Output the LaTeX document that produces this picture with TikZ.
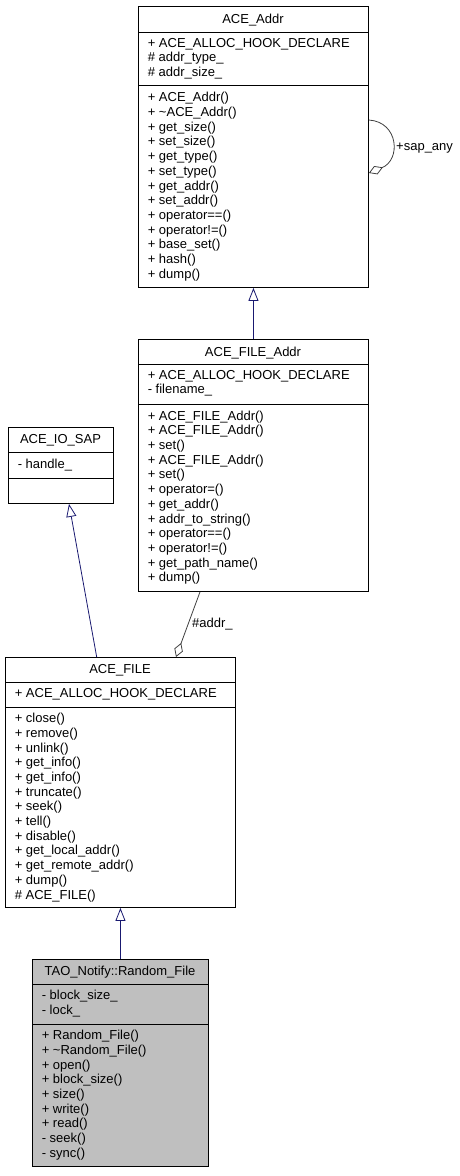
\documentclass[tikz,border=0pt]{standalone}
\usepackage{fontspec}
\setmainfont{Liberation Sans}
\usepackage{tikz}
\usepackage{xcolor}
\usetikzlibrary{arrows.meta}
\definecolor{edgeblue}{HTML}{191970}
\definecolor{edgegray}{HTML}{404040}
\definecolor{classgray}{HTML}{BFBFBF}

\begin{document}
\begin{tikzpicture}[x=1pt,y=-1pt,
  cls/.style={draw=black, line width=0.9pt, fill=white, anchor=north west, inner sep=0pt},
  clsname/.style={anchor=base, inner sep=0pt, font=\fontsize{13}{14.7}\selectfont},
  member/.style={anchor=north west, align=left, inner sep=0pt, font=\fontsize{13}{14.7}\selectfont},
  role/.style={anchor=base west, inner sep=0pt, font=\fontsize{13}{14.7}\selectfont},
  inherit/.style={edgeblue, line width=0.8pt, -{Triangle[open, length=13pt, width=10pt]}},
  aggr/.style={edgegray, line width=0.8pt, -{Diamond[open, length=15pt, width=9pt]}}]
\useasboundingbox (0,0) rectangle (459,1176);

% class boxes
\node [cls, minimum width=230, minimum height=281] (addr) at (138,6) {};
\node [cls, minimum width=230, minimum height=252] (faddr) at (138,339) {};
\node [cls, minimum width=105, minimum height=76] (iosap) at (8,427) {};
\node [cls, minimum width=230, minimum height=250] (file) at (5,657) {};
\node [cls, fill=classgray, minimum width=176, minimum height=207] (rand) at (32,959) {};

% compartments
\draw [line width=0.9pt] (138,32) -- (368,32);
\draw [line width=0.9pt] (138,85.7) -- (368,85.7);
\draw [line width=0.9pt] (138,364) -- (368,364);
\draw [line width=0.9pt] (138,404.5) -- (368,404.5);
\draw [line width=0.9pt] (8,452) -- (113,452);
\draw [line width=0.9pt] (8,478) -- (113,478);
\draw [line width=0.9pt] (5,682) -- (235,682);
\draw [line width=0.9pt] (5,707) -- (235,707);
\draw [line width=0.9pt] (32,984) -- (208,984);
\draw [line width=0.9pt] (32,1024) -- (208,1024);

% ACE_Addr
\node [clsname] (addrname) at (253,23) {ACE\_Addr};
\node [member] (addrattr) at (147.6,37.8) {+ ACE\_ALLOC\_HOOK\_DECLARE\\\# addr\_type\_\\\# addr\_size\_};
\node [member] (addrops) at (147.6,92.2) {+ ACE\_Addr()\\+ \textasciitilde ACE\_Addr()\\+ get\_size()\\+ set\_size()\\+ get\_type()\\+ set\_type()\\+ get\_addr()\\+ set\_addr()\\+ operator==()\\+ operator!=()\\+ base\_set()\\+ hash()\\+ dump()};

% ACE_FILE_Addr
\node [clsname] (faddrname) at (253,356) {ACE\_FILE\_Addr};
\node [member] (faddrattr) at (147.6,370) {+ ACE\_ALLOC\_HOOK\_DECLARE\\- filename\_};
\node [member] (faddrops) at (147.6,410.5) {+ ACE\_FILE\_Addr()\\+ ACE\_FILE\_Addr()\\+ set()\\+ ACE\_FILE\_Addr()\\+ set()\\+ operator=()\\+ get\_addr()\\+ addr\_to\_string()\\+ operator==()\\+ operator!=()\\+ get\_path\_name()\\+ dump()};

% ACE_IO_SAP
\node [clsname] (iosapname) at (60.5,443.5) {ACE\_IO\_SAP};
\node [member] (iosapattr) at (17.6,458.6) {- handle\_};

% ACE_FILE
\node [clsname] (filename) at (120,673.5) {ACE\_FILE};
\node [member] (fileattr) at (14.6,688) {+ ACE\_ALLOC\_HOOK\_DECLARE};
\node [member] (fileops) at (14.6,713) {+ close()\\+ remove()\\+ unlink()\\+ get\_info()\\+ get\_info()\\+ truncate()\\+ seek()\\+ tell()\\+ disable()\\+ get\_local\_addr()\\+ get\_remote\_addr()\\+ dump()\\\# ACE\_FILE()};

% TAO_Notify::Random_File
\node [clsname] (randname) at (120,975.5) {TAO\_Notify::Random\_File};
\node [member] (randattr) at (41.6,990) {- block\_size\_\\- lock\_};
\node [member] (randops) at (41.6,1030) {+ Random\_File()\\+ \textasciitilde Random\_File()\\+ open()\\+ block\_size()\\+ size()\\+ write()\\+ read()\\- seek()\\- sync()};

% relations
\draw [inherit] (faddr.north) -- (addr.south);
\draw [inherit] ([xshift=91.7pt]file.north west) -- ([xshift=61pt]iosap.south west);
\draw [inherit] (rand.north) -- (file.south);
\draw [aggr] ([xshift=62pt]faddr.south west) -- ([xshift=171pt]file.north west);
\node [role] (addrrole) at (192,627) {\#addr\_};
\draw [aggr] ([yshift=-114pt]addr.north east) .. controls +(30,2) and +(32,-13) .. ([yshift=-167pt]addr.north east);
\node [role] (saprole) at (396,150) {+sap\_any};

\end{tikzpicture}
\end{document}
